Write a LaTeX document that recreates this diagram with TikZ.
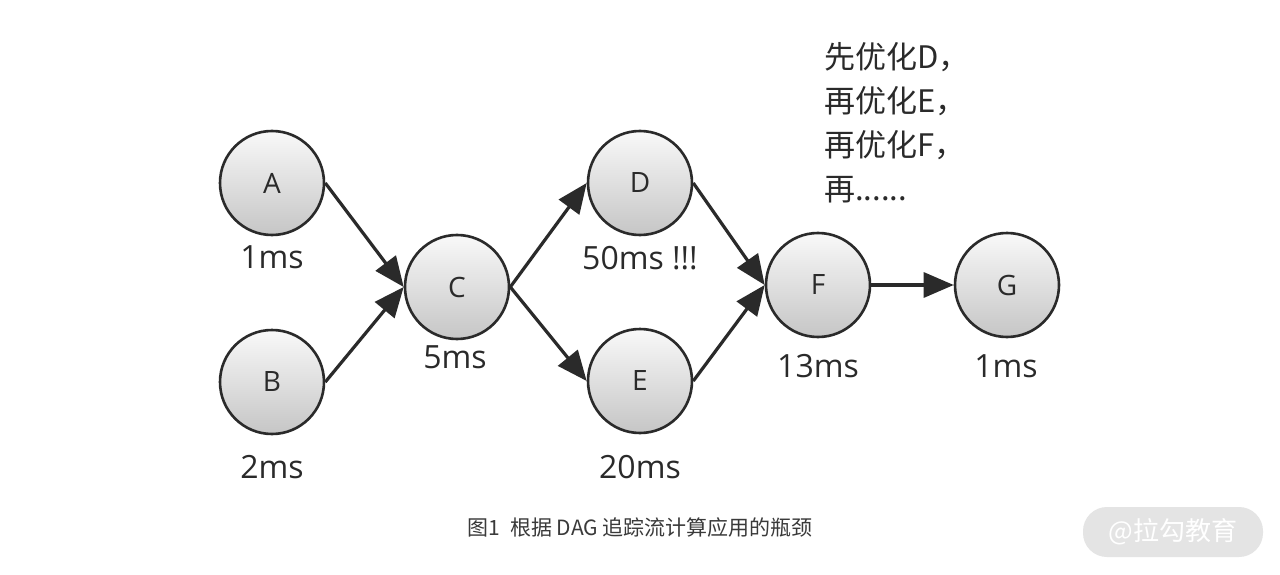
\documentclass[tikz,border=0pt]{standalone}
\usepackage{fontspec}
\setmainfont{Open Sans}
\newfontfamily\cjk{Noto Sans CJK SC}
\usetikzlibrary{arrows.meta}
\definecolor{ink}{HTML}{2A2A2A}
\definecolor{capc}{HTML}{3A3A3A}
\definecolor{wm}{HTML}{E4E4E4}
\tikzset{
  dagnode/.style={circle, minimum size=104pt, inner sep=0pt, draw=ink, line width=2.6pt,
    top color=white!95!gray, bottom color=gray!45, shading angle=0,
    font=\fontsize{28}{28}\selectfont, text=ink},
  timelbl/.style={font=\fontsize{32}{32}\selectfont, text=ink},
  dagarrow/.style={draw=ink, line width=3.2pt, -{Triangle[length=30pt,width=25pt]}},
  notetext/.style={font=\cjk\fontsize{31}{44}\selectfont, text=ink, align=left, anchor=north west, inner sep=0pt},
}
\begin{document}
\begin{tikzpicture}[x=1pt,y=-1pt]
\useasboundingbox (0,0) rectangle (1280,575);
\fill[white] (0,0) rectangle (1280,575);
\node[dagnode] (A) at (272,183) {A};
\node[dagnode] (B) at (272,382) {B};
\node[dagnode] (C) at (457,287) {C};
\node[dagnode] (D) at (640,183) {D};
\node[dagnode] (E) at (640,381) {E};
\node[dagnode] (F) at (818,285) {F};
\node[dagnode] (G) at (1007,285) {G};
\node[timelbl] (tA) at (272,257) {1ms};
\node[timelbl] (tB) at (272,467) {2ms};
\node[timelbl] (tC) at (455,357) {5ms};
\node[timelbl] (tD) at (640,258) {50ms !!!};
\node[timelbl] (tE) at (640,467) {20ms};
\node[timelbl] (tF) at (818,366) {13ms};
\node[timelbl] (tG) at (1006,366) {1ms};
\draw[dagarrow] (A.east) -- (C.west);
\draw[dagarrow] (B.east) -- (C.west);
\draw[dagarrow] (C.east) -- (D.west);
\draw[dagarrow] (C.east) -- (E.west);
\draw[dagarrow] (D.east) -- (F.west);
\draw[dagarrow] (E.east) -- (F.west);
\draw[dagarrow] (F.east) -- (G.west);
\node[notetext] (note) at (824,42) {先优化D，\\再优化E，\\再优化F，\\再......};
\node[font=\cjk\fontsize{21}{21}\selectfont, text=capc] (cap) at (640,528) {图1\hspace{0.5em}根据 DAG 追踪流计算应用的瓶颈};
\node[fill=wm, rounded corners=24pt, minimum width=180pt, minimum height=50pt, inner sep=0pt,
  font=\cjk\fontsize{26}{26}\selectfont, text=white] (wmk) at (1173,532) {@拉勾教育};
\end{tikzpicture}
\end{document}
